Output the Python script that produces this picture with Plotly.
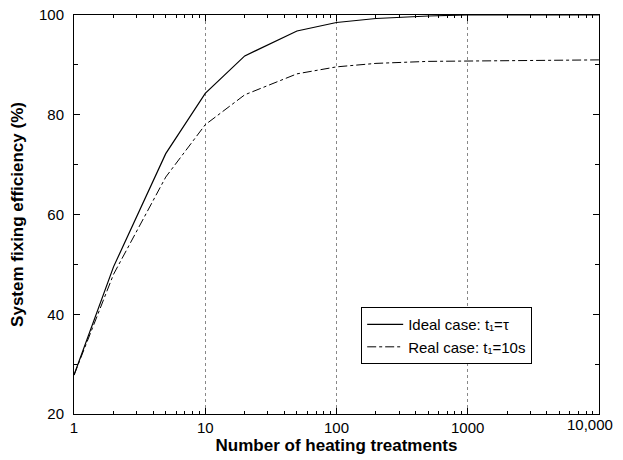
import plotly.graph_objects as go

treatments = [1, 2, 5, 10, 20, 50, 100, 200, 500, 1000, 2000, 5000, 10000]
ideal_eff = [27.8, 49.5, 72.2, 84.3, 91.8, 96.8, 98.5, 99.3, 99.8, 100.0, 100.0, 100.0, 100.0]
real_eff = [27.8, 48.0, 67.5, 78.0, 84.0, 88.2, 89.6, 90.3, 90.7, 90.8, 90.9, 91.0, 91.0]
xtick_vals = [1, 10, 100, 1000, 10000]
xtick_text = ["1", "10", "100", "1000", ""]
last_tick_val = [10000]
last_tick_text = ["10,000"]
ytick_vals = [20, 40, 60, 80, 100]

fig = go.Figure()
fig.add_trace(go.Scatter(x=treatments, y=ideal_eff, mode="lines",
                         name="Ideal case: t₁=τ",
                         line=dict(color="black", width=1.2)))
fig.add_trace(go.Scatter(x=treatments, y=real_eff, mode="lines",
                         name="Real case: t₁=10s",
                         line=dict(color="black", width=1, dash="dashdot")))
# invisible copy so the overlay axis carrying the "10,000" label is drawn
fig.add_trace(go.Scatter(x=treatments, y=ideal_eff, mode="lines", xaxis="x2",
                         showlegend=False, hoverinfo="skip", opacity=0,
                         line=dict(color="black", width=0.1)))

minor_x = [m * 10 ** d for d in range(4) for m in range(2, 10)]

fig.update_layout(
    width=615, height=452,
    margin=dict(l=66, r=24, t=7, b=46),
    paper_bgcolor="white", plot_bgcolor="white",
    font=dict(family="Liberation Sans, Arial, sans-serif", size=15, color="black"),
    showlegend=True,
    legend=dict(x=0.547, y=0.268, xanchor="left", yanchor="top",
                bordercolor="black", borderwidth=1, bgcolor="white",
                font=dict(size=15), tracegroupgap=0, itemwidth=36),
    xaxis=dict(type="log", range=[0, 4.0005], tickvals=xtick_vals, ticktext=xtick_text,
               ticks="inside", ticklen=6, tickcolor="black", automargin=False,
               ticklabeloverflow="allow",
               showline=True, linecolor="black", linewidth=1, mirror="ticks",
               showgrid=True, gridcolor="#888888", griddash="dot", gridwidth=1,
               zeroline=False,
               minor=dict(tickvals=minor_x, ticks="inside", ticklen=3, tickcolor="black", showgrid=False),
               title=dict(text="<b>Number of heating treatments</b>", font=dict(size=17), standoff=2)),
    xaxis2=dict(type="log", range=[0, 4.0005], overlaying="x", anchor="y", side="bottom",
                tickvals=last_tick_val, ticktext=last_tick_text, ticks="",
                ticklabelshift=-9, ticklabeloverflow="allow", automargin=False,
                showline=False, showgrid=False, zeroline=False, tickfont=dict(size=15)),
    yaxis=dict(range=[20, 100], tickvals=ytick_vals,
               ticks="inside", ticklen=6, tickcolor="black", automargin=False,
               ticklabeloverflow="allow", ticklabelstandoff=6,
               showline=True, linecolor="black", linewidth=1, mirror="ticks",
               showgrid=False, zeroline=False,
               minor=dict(tickvals=[30, 50, 70, 90], ticks="inside", ticklen=4, tickcolor="black"),
               title=dict(text="<b>System fixing efficiency (%)</b>", font=dict(size=17), standoff=12)),
)

fig.write_html("out.html")
